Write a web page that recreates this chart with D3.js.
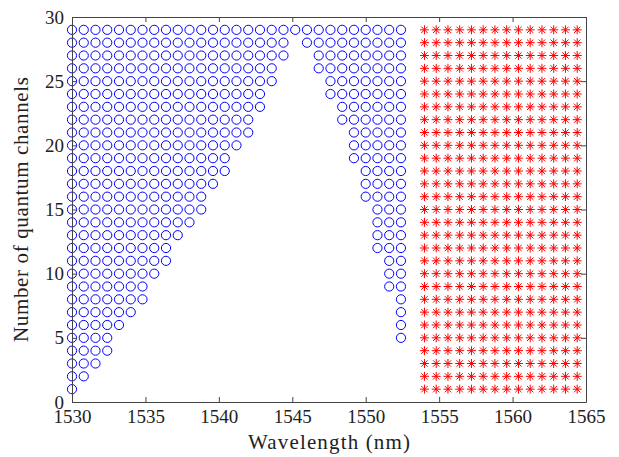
<!DOCTYPE html>
<html>
<head>
<meta charset="utf-8">
<script src="https://cdn.jsdelivr.net/npm/d3@7"></script>
<style>
  body { margin: 0; background: #fff; }
</style>
</head>
<body>
<div id="root"></div>
<script>
// 100 GHz grid wavelengths (nm)
const wavelengths = [
  1530.0, 1530.8, 1531.6, 1532.4, 1533.2, 1534.0, 1534.8, 1535.6, 1536.4,
  1537.2, 1538.0, 1538.8, 1539.6, 1540.4, 1541.2, 1542.0, 1542.8, 1543.6,
  1544.4, 1545.2, 1546.0, 1546.8, 1547.6, 1548.4, 1549.2, 1550.0, 1550.8,
  1551.6, 1552.4, 1553.2, 1554.0, 1554.8, 1555.6, 1556.4, 1557.2, 1558.0,
  1558.8, 1559.6, 1560.4, 1561.2, 1562.0, 1562.8, 1563.6, 1564.4,
];
const channels = [
  1, 2, 3, 4, 5, 6, 7, 8, 9, 10, 11, 12, 13, 14, 15, 16, 17, 18, 19, 20, 21,
  22, 23, 24, 25, 26, 27, 28, 29,
];
// last index of the low-wavelength circle block, per channel count
const leftLast = [
  0, 1, 2, 3, 3, 4, 5, 6, 6, 7, 8, 8, 9, 10, 11, 11, 12, 13, 13, 14, 15, 15,
  16, 16, 17, 17, 18, 18, 28,
];
// first index of the high-wavelength circle block (null = none)
const rightFirst = [
  null, null, null, null, 28, 28, 28, 28, 27, 27, 27, 26, 26, 26, 26, 25, 25,
  25, 24, 24, 24, 23, 23, 22, 22, 21, 21, 20, null,
];
const circleLastIndex = 28;
const starFirstIndex = 30;
const starLastIndex = 43;
const xTicks = [1530, 1535, 1540, 1545, 1550, 1555, 1560, 1565];
const yTicks = [0, 5, 10, 15, 20, 25, 30];

const width = 619, height = 457;
const margin = { left: 72, right: 33, top: 17, bottom: 55 };
const axisColor = "#444";
const serif = "'Liberation Serif'";

const svg = d3.select("#root").append("svg")
  .attr("width", width)
  .attr("height", height)
  .attr("viewBox", `0 0 ${width} ${height}`);

const x = d3.scaleLinear([1530, 1565], [margin.left, width - margin.right]);
const y = d3.scaleLinear([0, 30], [height - margin.bottom, margin.top]);

// marker points
const circles = [];
const stars = [];
channels.forEach((n, i) => {
  for (let k = 0; k <= leftLast[i]; k++) circles.push([wavelengths[k], n]);
  if (rightFirst[i] !== null) {
    for (let k = rightFirst[i]; k <= circleLastIndex; k++) circles.push([wavelengths[k], n]);
  }
  for (let k = starFirstIndex; k <= starLastIndex; k++) stars.push([wavelengths[k], n]);
});

const marks = svg.append("g");

marks.selectAll("circle")
  .data(circles)
  .join("circle")
  .attr("cx", (d) => x(d[0]))
  .attr("cy", (d) => y(d[1]))
  .attr("r", 4.6)
  .attr("fill", "none")
  .attr("stroke", "#0000ff")
  .attr("stroke-width", 1);

const s = 4.5, sd = s * 0.707;
const starPath = `M${-s},0H${s}M0,${-s}V${s}M${-sd},${-sd}L${sd},${sd}M${-sd},${sd}L${sd},${-sd}`;
marks.selectAll("path.star")
  .data(stars)
  .join("path")
  .attr("class", "star")
  .attr("transform", (d) => `translate(${x(d[0])},${y(d[1])})`)
  .attr("d", starPath)
  .attr("fill", "none")
  .attr("stroke", "#ff0000")
  .attr("stroke-width", 1);

// axes: box with inward ticks
function styleAxis(g) {
  g.attr("color", axisColor).attr("font-family", null).attr("font-size", null);
  g.selectAll("text").style("font-family", serif).style("font-size", "19px").attr("fill", "#222");
}

svg.append("g")
  .attr("transform", `translate(0,${height - margin.bottom})`)
  .call(d3.axisBottom(x).tickValues(xTicks).tickFormat(d3.format("d"))
    .tickSizeInner(-5).tickSizeOuter(0).tickPadding(8))
  .call(styleAxis);

svg.append("g")
  .attr("transform", `translate(0,${margin.top})`)
  .call(d3.axisTop(x).tickValues(xTicks).tickFormat("")
    .tickSizeInner(-5).tickSizeOuter(0))
  .call(styleAxis);

svg.append("g")
  .attr("transform", `translate(${margin.left},0)`)
  .call(d3.axisLeft(y).tickValues(yTicks)
    .tickSizeInner(-5).tickSizeOuter(0).tickPadding(8))
  .call(styleAxis);

svg.append("g")
  .attr("transform", `translate(${width - margin.right},0)`)
  .call(d3.axisRight(y).tickValues(yTicks).tickFormat("")
    .tickSizeInner(-5).tickSizeOuter(0))
  .call(styleAxis);

// axis titles
svg.append("text")
  .attr("x", (x.range()[0] + x.range()[1]) / 2)
  .attr("y", 449)
  .attr("text-anchor", "middle")
  .attr("fill", "#222")
  .style("font-family", serif)
  .style("font-size", "21px")
  .attr("textLength", 162)
  .attr("lengthAdjust", "spacing")
  .text("Wavelength (nm)");

svg.append("text")
  .attr("transform", `translate(28,${(y.range()[0] + y.range()[1]) / 2}) rotate(-90)`)
  .attr("text-anchor", "middle")
  .attr("fill", "#222")
  .style("font-family", serif)
  .style("font-size", "21px")
  .attr("textLength", 265)
  .attr("lengthAdjust", "spacing")
  .text("Number of quantum channels");
</script>
</body>
</html>
